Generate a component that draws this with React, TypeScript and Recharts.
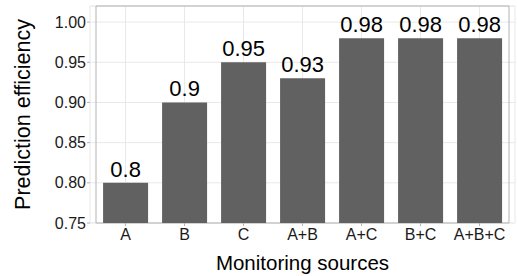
import { BarChart, Bar, XAxis, YAxis, CartesianGrid, ReferenceArea, LabelList } from "recharts";

const sources = ["A", "B", "C", "A+B", "A+C", "B+C", "A+B+C"];
const efficiency = [0.8, 0.9, 0.95, 0.93, 0.98, 0.98, 0.98];
const yTicks = [0.75, 0.8, 0.85, 0.9, 0.95, 1.0];
const yMinor = [0.775, 0.825, 0.875, 0.925, 0.975];
const yDomain = [0.75, 1.02];

const data = sources.map((s, i) => ({ source: s, value: efficiency[i] }));

const FONT = "'Liberation Sans', Arial, Helvetica, sans-serif";

const YTitle = ({ viewBox }: any) => {
    const cy = viewBox.y + viewBox.height / 2;
    return (
        <text x={23} y={cy} transform={`rotate(-90 23 ${cy})`} textAnchor="middle" dominantBaseline="central"
            fontSize={21.5} fill="#000" fontFamily={FONT}>
            Prediction efficiency
        </text>
    );
};

const XTitle = ({ viewBox }: any) => (
    <text x={viewBox.x + viewBox.width / 2} y={270} textAnchor="middle" fontSize={20.5} fill="#000" fontFamily={FONT}>
        Monitoring sources
    </text>
);

export default function App() {
    return (
        <div style={{ position: "absolute", left: 0, top: 0, background: "#fff" }}>
            <BarChart width={517} height={276} data={data} margin={{ top: 6, right: 2, bottom: 0, left: 0 }}
                barCategoryGap="12%" style={{ fontFamily: FONT }}>
                {/* minor horizontal grid, driven by a hidden axis */}
                <CartesianGrid stroke="#f3f3f3" strokeWidth={1} vertical={false} yAxisId="minor" />
                <CartesianGrid stroke="#e8e8e8" strokeWidth={1} />
                <XAxis dataKey="source" height={53} padding={{ left: 6, right: 6 }}
                    tick={{ fill: "#1a1a1a", fontSize: 16 }} tickSize={3} tickMargin={3}
                    tickLine={{ stroke: "#b3b3b3" }} axisLine={false} interval={0}
                    label={<XTitle />} />
                <YAxis type="number" domain={yDomain} ticks={yTicks} width={90}
                    tickFormatter={(v: number) => v.toFixed(2)}
                    tick={{ fill: "#1a1a1a", fontSize: 16 }} tickSize={3} tickMargin={1}
                    tickLine={{ stroke: "#b3b3b3" }} axisLine={false}
                    label={<YTitle />} />
                <YAxis yAxisId="minor" type="number" domain={yDomain} ticks={yMinor} hide />
                <Bar dataKey="value" fill="#616161" isAnimationActive={false}>
                    <LabelList dataKey="value" position="top" offset={6} fontSize={22} fill="#000" fontFamily={FONT} />
                </Bar>
                <ReferenceArea y1={0.75} y2={1.02} fill="none" stroke="#b3b3b3" strokeWidth={1} />
            </BarChart>
        </div>
    );
}
